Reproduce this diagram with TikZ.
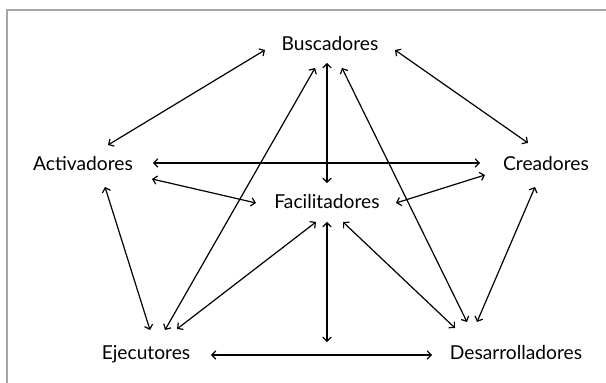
\documentclass[tikz,border=0pt]{standalone}
\usepackage{fontspec}
\setmainfont{Lato}
\usetikzlibrary{arrows.meta,positioning,calc}
\tikzset{
rolenode/.style={rectangle, inner sep=0pt, text height=7pt, text depth=0pt, font=\fontsize{9.6}{11}\selectfont},
link/.style={<->, line width=0.6pt},
>={Straight Barb[length=2pt,width=4.2pt]},
framebox/.style={draw=black!35, line width=0.6pt}
}
\begin{document}
\begin{tikzpicture}[x=0.5pt, y=-0.5pt]
\useasboundingbox (0,0) rectangle (606,383);

%frame
\draw[framebox] (7,383) -- (7,10) -- (606,10);

%Role nodes
\node[rolenode] (buscadores) at(330,44) {Buscadores};
\node[rolenode] (activadores) at(83,164) {Activadores};
\node[rolenode] (creadores) at(546,164) {Creadores};
\node[rolenode] (facilitadores) at(327,202) {Facilitadores};
\node[rolenode] (ejecutores) at(146,353) {Ejecutores};
\node[rolenode] (desarrolladores) at(516,353) {Desarrolladores};
\coordinate (union) at(327,342);

%Outer ring
\draw[link] ([shift={(-65,6)}]buscadores.center) -- ([shift={(25,-19)}]activadores.center);
\draw[link] ([shift={(65,6)}]buscadores.center) -- ([shift={(-18,-21)}]creadores.center);
\draw[link] ([shift={(22,23)}]activadores.center) -- ([shift={(4,-23)}]ejecutores.center);
\draw[link] ([shift={(-11,23)}]creadores.center) -- ([shift={(-39,-31)}]desarrolladores.center);
\draw[link] ([shift={(65,2)}]ejecutores.center) -- ([shift={(-84,2)}]desarrolladores.center);

%Cross links
\draw[link] ([shift={(70,-1)}]activadores.center) -- ([shift={(-66,-1)}]creadores.center);
\draw[link] ([shift={(-15,24)}]buscadores.center) -- ([shift={(19,-23)}]ejecutores.center);
\draw[link] ([shift={(12,24)}]buscadores.center) -- ([shift={(-49,-31)}]desarrolladores.center);

%Facilitadores links
\draw[link] ([shift={(-3,19)}]buscadores.center) -- ([shift={(0,-19)}]facilitadores.center);
\draw[link] ([shift={(69,15)}]activadores.center) -- ([shift={(-71,1)}]facilitadores.center);
\draw[link] ([shift={(-61,11)}]creadores.center) -- ([shift={(69,1)}]facilitadores.center);
\draw[link] ([shift={(-11,20)}]facilitadores.center) -- ([shift={(31,-24)}]ejecutores.center);
\draw[link] ([shift={(16,20)}]facilitadores.center) -- ([shift={(-61,-25)}]desarrolladores.center);
\draw[link] ([shift={(0,20)}]facilitadores.center) -- (union);
\end{tikzpicture}
\end{document}
